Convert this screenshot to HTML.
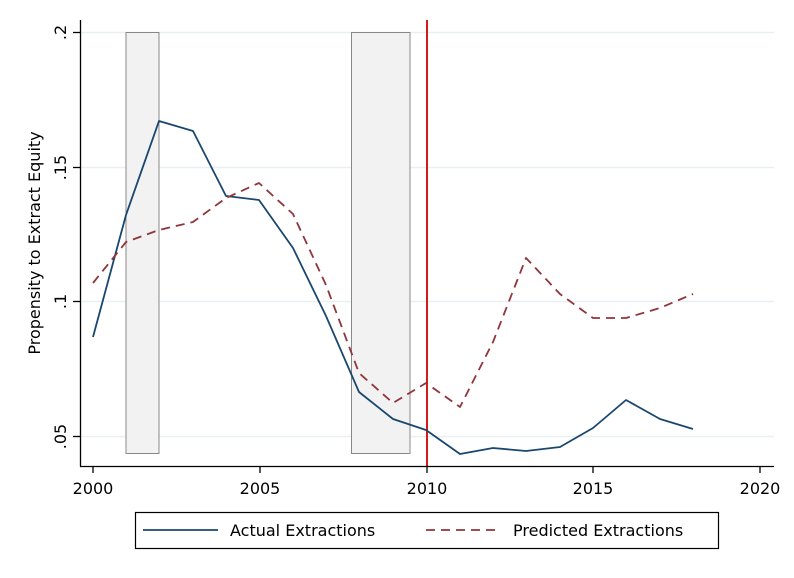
<!DOCTYPE html>
<html><head><style>body{margin:0;background:#fff}svg{display:block}</style></head><body>
<svg width="794" height="578" viewBox="0 0 794 578" xmlns="http://www.w3.org/2000/svg" font-family="'DejaVu Sans','Liberation Sans',sans-serif">
<rect width="794" height="578" fill="#fff"/>
<g stroke="#eaf0f2" stroke-width="1.5">
<line x1="81" y1="32.5" x2="774" y2="32.5"/><line x1="81" y1="167.5" x2="774" y2="167.5"/>
<line x1="81" y1="301.5" x2="774" y2="301.5"/><line x1="81" y1="436.5" x2="774" y2="436.5"/>
</g>
<rect x="126" y="32.5" width="33" height="421" fill="#f2f2f2" stroke="#888" stroke-width="1"/>
<rect x="351.5" y="32.5" width="58.5" height="421" fill="#f2f2f2" stroke="#888" stroke-width="1"/>
<line x1="427" y1="20" x2="427" y2="466" stroke="#d10000" stroke-width="1.8"/>
<polyline fill="none" stroke="#1a476f" stroke-width="1.8" stroke-linejoin="round" points="93,337 126,215 159,121 193,131 226,196 259,200 293,248 326,316 359,392 393,419 426,430 460,454 493,448 526,451 560,447 593,428 626,400 660,419 693,429"/>
<polyline fill="none" stroke="#90353b" stroke-width="1.8" stroke-dasharray="9,6" stroke-linejoin="round" points="93,283 126,242 159,230 193,222 226,198 259,183 293,214 326,285 359,373 393,403 426,383 460,407 493,342 526,258 560,294 593,318 626,318 660,308 693,294"/>
<g stroke="#000" stroke-width="1.3">
<line x1="80.5" y1="20" x2="80.5" y2="466.5"/><line x1="80" y1="466.5" x2="774" y2="466.5"/>
<line x1="73" y1="32.5" x2="80" y2="32.5"/><line x1="73" y1="167.5" x2="80" y2="167.5"/>
<line x1="73" y1="301.5" x2="80" y2="301.5"/><line x1="73" y1="436.5" x2="80" y2="436.5"/>
<line x1="93" y1="466" x2="93" y2="473"/><line x1="260" y1="466" x2="260" y2="473"/>
<line x1="427" y1="466" x2="427" y2="473"/><line x1="593" y1="466" x2="593" y2="473"/>
<line x1="760" y1="466" x2="760" y2="473"/>
</g>
<g font-size="16" fill="#000" text-anchor="middle">
<text x="93" y="494">2000</text><text x="260" y="494">2005</text><text x="427" y="494">2010</text><text x="593" y="494">2015</text><text x="760" y="494">2020</text>
<text transform="translate(66,32.5) rotate(-90)">.2</text>
<text transform="translate(66,167.5) rotate(-90)">.15</text>
<text transform="translate(66,301.5) rotate(-90)">.1</text>
<text transform="translate(66,436.5) rotate(-90)">.05</text>
<text transform="translate(40,243) rotate(-90)">Propensity to Extract Equity</text>
</g>
<rect x="135.5" y="512.5" width="583" height="36" fill="#fff" stroke="#000" stroke-width="1.2"/>
<line x1="143" y1="530" x2="218" y2="530" stroke="#1a476f" stroke-width="1.8"/>
<line x1="426" y1="530" x2="501" y2="530" stroke="#90353b" stroke-width="1.8" stroke-dasharray="9,6"/>
<text x="230" y="536" font-size="16">Actual Extractions</text>
<text x="513" y="536" font-size="16">Predicted Extractions</text>
</svg>
</body></html>
